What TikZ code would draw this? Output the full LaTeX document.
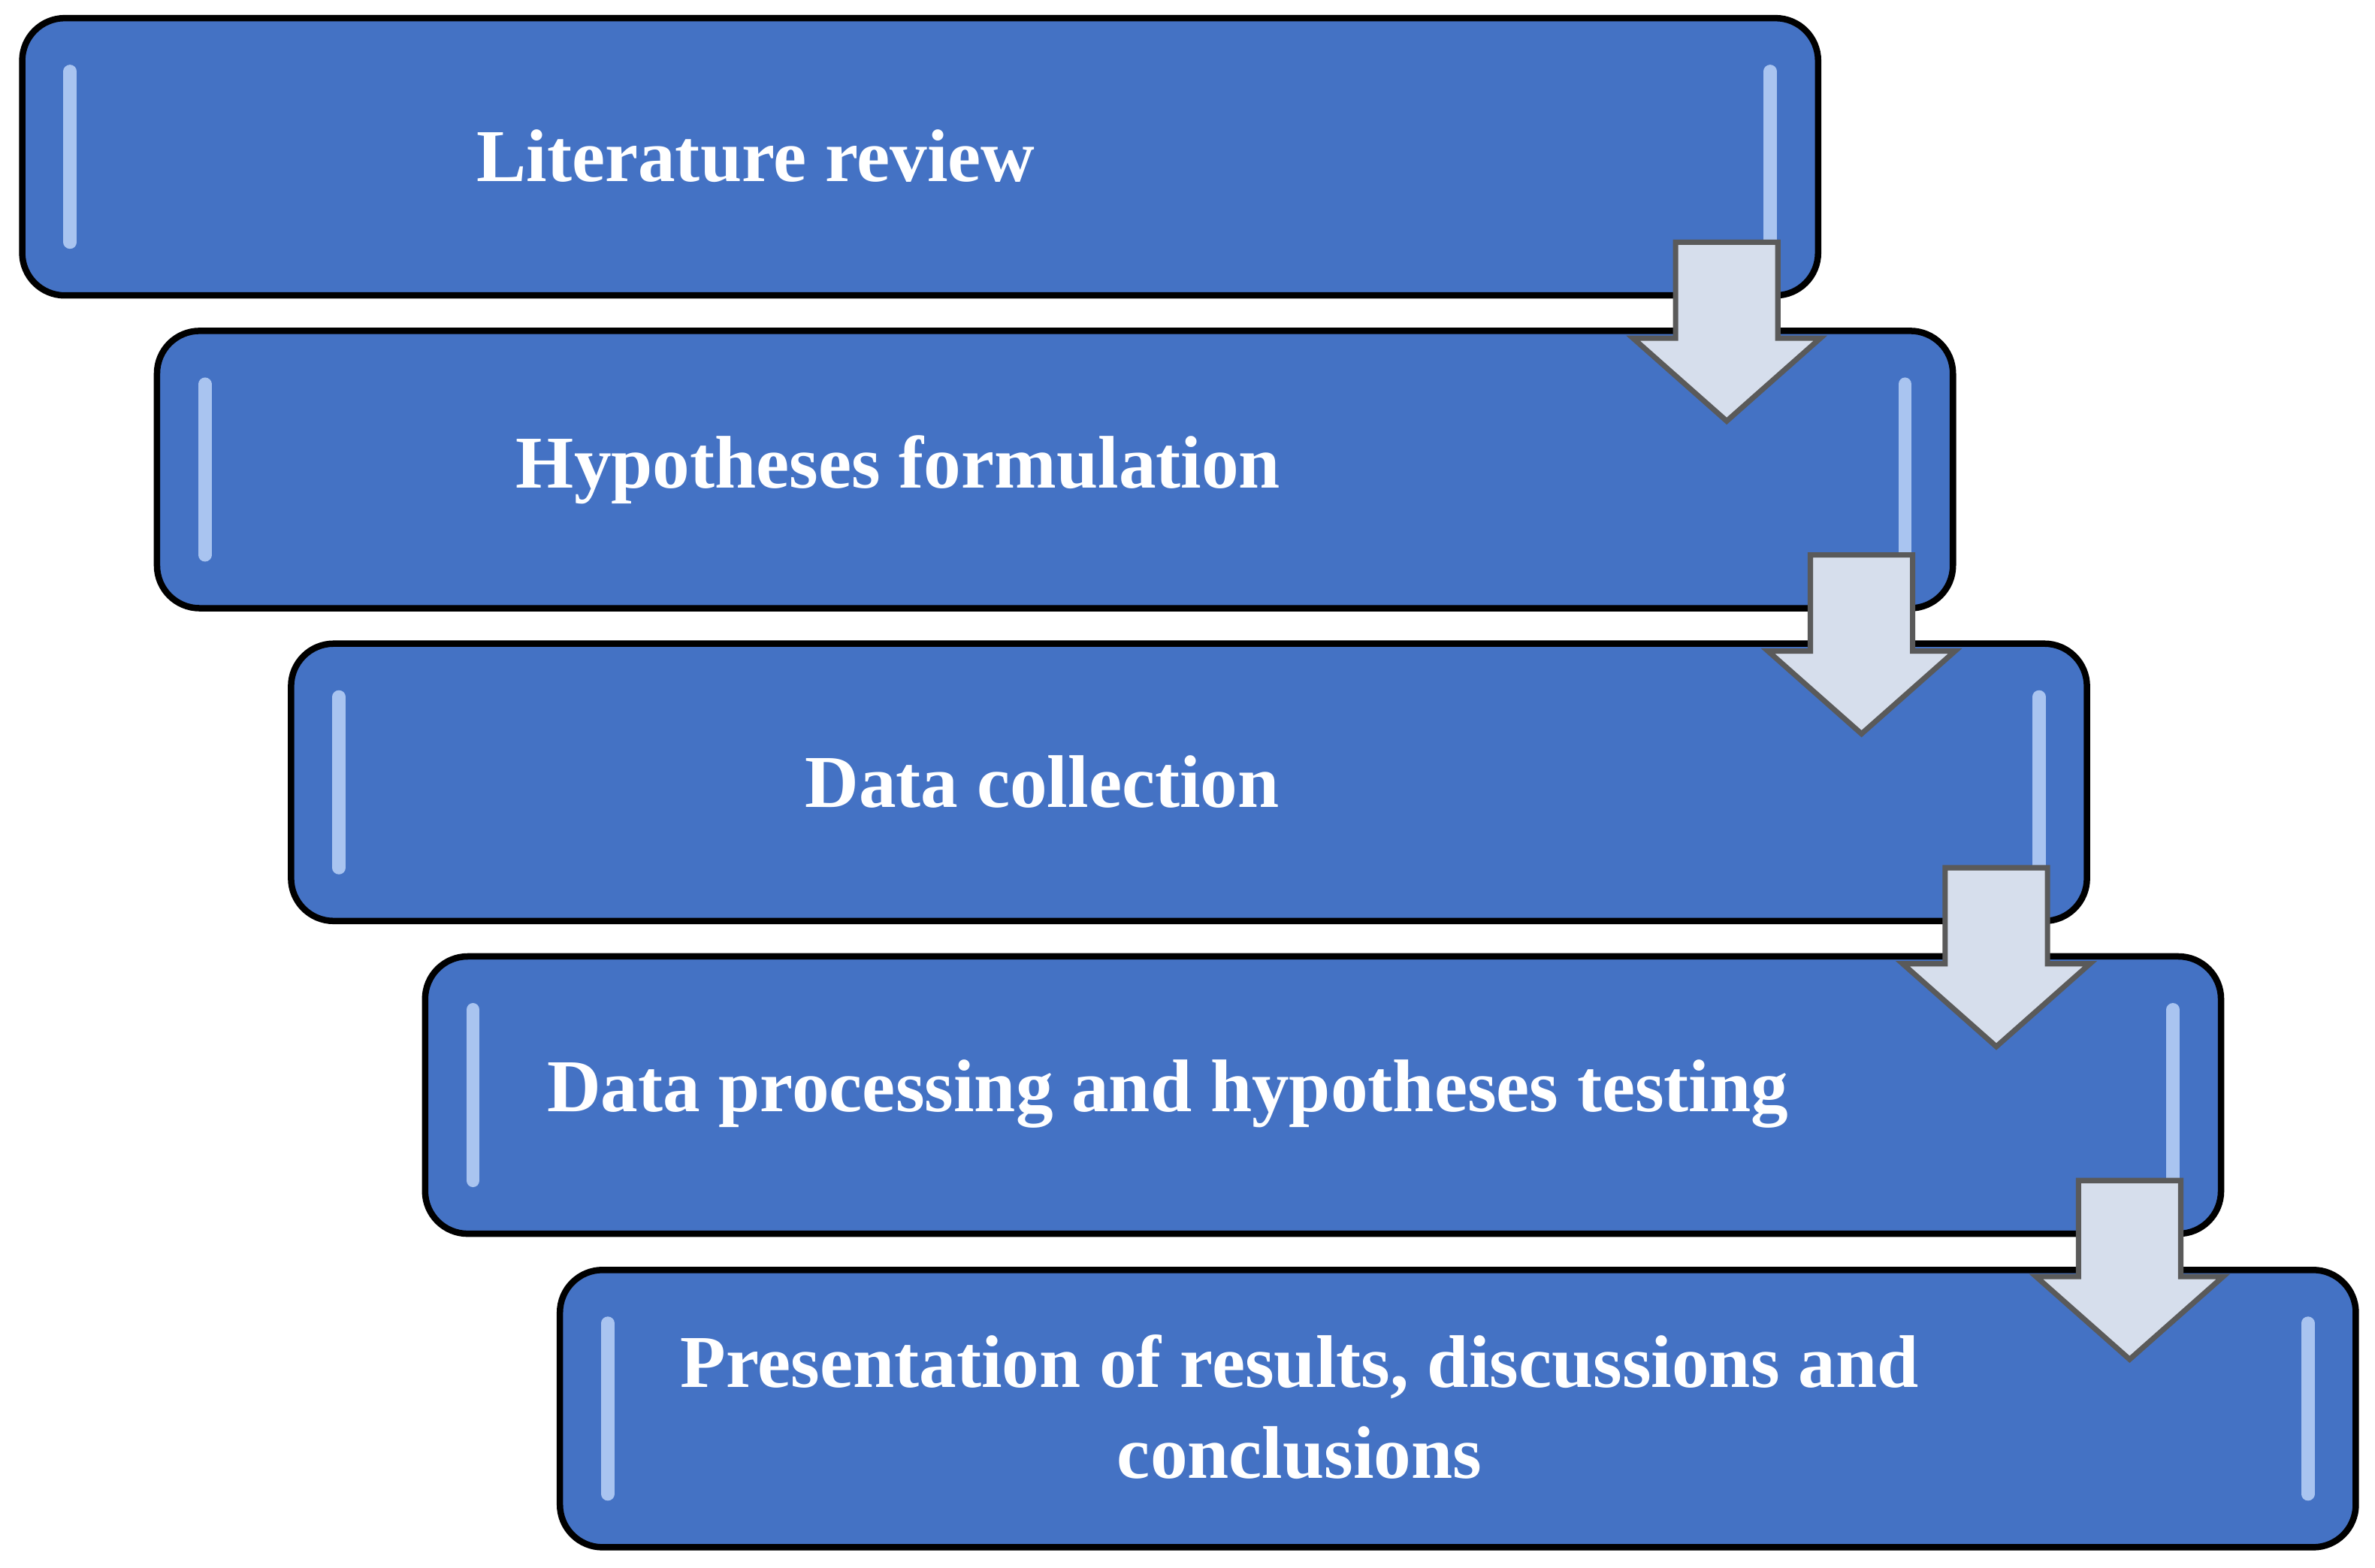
\documentclass[tikz,border=0pt]{standalone}
\usepackage{fontspec}
\setmainfont{Liberation Serif}
\usetikzlibrary{shapes.arrows}
\definecolor{stepblue}{HTML}{4472C4}
\definecolor{shine}{HTML}{A9C4F0}
\definecolor{arrowfill}{HTML}{D6DEEC}
\definecolor{arrowline}{HTML}{5A5A5A}
\tikzset{
  stage/.style={draw=black, line width=1.2pt, fill=stepblue, rounded corners=8pt,
    minimum width=11.85cm, minimum height=1.83cm, inner sep=0pt,
    path picture={
      \draw[shine, line width=2.5pt, line cap=round]
        ([xshift=9pt,yshift=-10pt]path picture bounding box.north west) --
        ([xshift=9pt,yshift=10pt]path picture bounding box.south west)
        ([xshift=-9pt,yshift=-10pt]path picture bounding box.north east) --
        ([xshift=-9pt,yshift=10pt]path picture bounding box.south east);}},
  stagetext/.style={text=white, font=\fontsize{14}{17}\selectfont\bfseries, align=center},
  down/.style={single arrow, shape border rotate=270, draw=arrowline, line width=1pt,
    fill=arrowfill, minimum height=1.18cm, inner sep=0.32cm,
    single arrow head extend=0.28cm, single arrow tip angle=97}
}
\begin{document}
\begin{tikzpicture}[x=0.01cm,y=-0.01cm]
  \useasboundingbox (0,0) rectangle (1568,1035);

  \node (lit) at (607.5,103.5) [stage] {};
  \node (hyp) at (696.5,310) [stage] {};
  \node (col) at (785,516.5) [stage] {};
  \node (proc) at (873.5,723) [stage] {};
  \node (pres) at (962.5,930) [stage] {};

  \node (tlit) at (499,103) [stagetext] {Literature review};
  \node (thyp) at (593,310) [stagetext] {Hypotheses formulation};
  \node (tcol) at (688,516) [stagetext] {Data collection};
  \node (tproc) at (771,722) [stagetext] {Data processing and hypotheses testing};
  \node (tpres) at (858,929) [stagetext] {Presentation of results, discussions and\\conclusions};

  %arrows between the stages
  \node (a1) at (1140,204) [down] {};
  \node (a2) at (1229,410.5) [down] {};
  \node (a3) at (1318,617) [down] {};
  \node (a4) at (1406,823.5) [down] {};
\end{tikzpicture}
\end{document}
